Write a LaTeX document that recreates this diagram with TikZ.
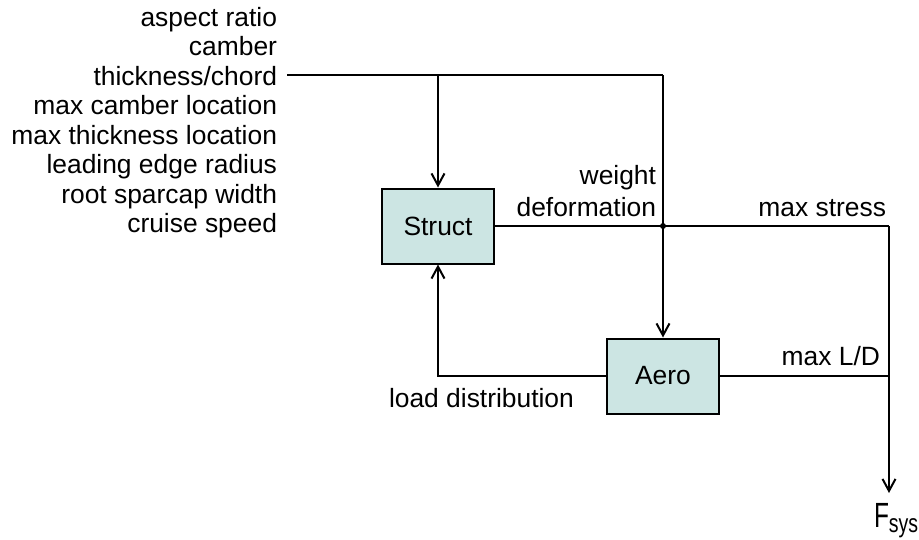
\documentclass[tikz,border=0pt]{standalone}
\usepackage{fontspec}
\usepackage{graphicx}
\setmainfont{Liberation Sans}
\usetikzlibrary{arrows.meta}
\definecolor{boxfill}{RGB}{204,229,227}
\begin{document}
\begin{tikzpicture}[x=1pt,y=-1pt,line width=2pt,
  blk/.style={draw=black,fill=boxfill,minimum width=112pt,minimum height=75pt,inner sep=0pt,font=\fontsize{26.4}{30}\selectfont},
  lbl/.style={inner sep=0pt,font=\fontsize{26.4}{30}\selectfont},
  arr/.style={-{Straight Barb[length=12pt,width=13pt]}}]
\useasboundingbox (0,0) rectangle (919,539);
% blocks
\node[blk] (struct) at (438,226) {Struct};
\node[blk] (aero) at (663,376) {Aero};
% input labels
\node[lbl,anchor=base east] (i1) at (278,26) {aspect ratio};
\node[lbl,anchor=base east] (i2) at (278,55.5) {camber};
\node[lbl,anchor=base east] (i3) at (278,85) {thickness/chord};
\node[lbl,anchor=base east] (i4) at (278,114.5) {max camber location};
\node[lbl,anchor=base east] (i5) at (278,144) {max thickness location};
\node[lbl,anchor=base east] (i6) at (278,173.5) {leading edge radius};
\node[lbl,anchor=base east] (i7) at (278,203) {root sparcap width};
\node[lbl,anchor=base east] (i8) at (278,232.5) {cruise speed};
% coordinates
\coordinate (in) at (287,75);
\coordinate (jt) at (438,75);
\coordinate (tr) at (663,75);
\coordinate (jd) at (663,226);
\coordinate (rs) at (889,226);
\coordinate (rl) at (889,376);
\coordinate (fs) at (889,493);
\coordinate (lb) at (438,376);
% connectors
\draw (in) -- (tr);
\draw[arr] (jt) -- (struct.north);
\draw[arr] (tr) -- (aero.north);
\draw (struct.east) -- (rs);
\draw[arr] (rs) -- (fs);
\draw (aero.east) -- (rl);
\draw[arr] (aero.west) -- (lb) -- (struct.south);
\fill (jd) circle (3pt);
% connector labels
\node[lbl,anchor=base east] (w) at (657,184) {weight};
\node[lbl,anchor=base east] (d) at (657,216) {deformation};
\node[lbl,anchor=base east] (ms) at (887,216) {max stress};
\node[lbl,anchor=base east] (ld) at (881,365) {max L/D};
\node[lbl,anchor=base west] (lo) at (388,407) {load distribution};
\node[inner sep=0pt,anchor=base west] (f) at (873,527) {\scalebox{0.7}[1]{\fontsize{35}{35}\selectfont F}\raisebox{-5pt}{\scalebox{0.75}[1]{\fontsize{26}{26}\selectfont sys}}};
\end{tikzpicture}
\end{document}
